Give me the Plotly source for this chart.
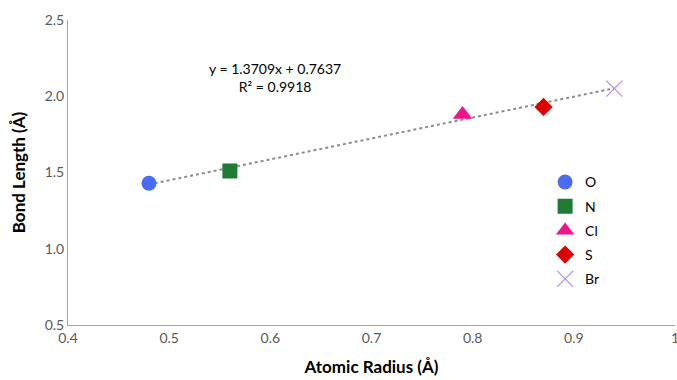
import plotly.graph_objects as go
import numpy as np

elements = ["O", "N", "Cl", "S", "Br"]
atomic_radius = [0.48, 0.56, 0.79, 0.87, 0.94]
bond_length = [1.43, 1.51, 1.88, 1.93, 2.05]
symbols = ["circle", "square", "triangle-up", "diamond", "x-thin"]
colors = ["#4a6cf5", "#1e7b34", "#f0148c", "#dd0000", "#b48cec"]
sizes = [15, 15, 17, 14, 16]

x_ticks = [0.4, 0.5, 0.6, 0.7, 0.8, 0.9, 1.0]
x_tick_labels = ["0.4", "0.5", "0.6", "0.7", "0.8", "0.9", "1"]
y_ticks = [0.5, 1.0, 1.5, 2.0, 2.5]
y_tick_labels = ["0.5", "1.0", "1.5", "2.0", "2.5"]

slope, intercept = 1.3709, 0.7637
r2 = 0.9918

FONT = "Lato"

fig = go.Figure()

# trendline
tx = np.array([min(atomic_radius), max(atomic_radius)])
fig.add_trace(go.Scatter(x=tx, y=slope * tx + intercept, mode="lines",
                         line=dict(color="#8c8c8c", width=2, dash="dot"),
                         showlegend=False, hoverinfo="skip"))

for i, el in enumerate(elements):
    mk = dict(symbol=symbols[i], color=colors[i], size=sizes[i])
    if symbols[i] == "x-thin":
        mk["line"] = dict(color=colors[i], width=1.2)
    fig.add_trace(go.Scatter(x=[atomic_radius[i]], y=[bond_length[i]], mode="markers",
                             marker=mk, name=el, legendgroup=el))

fig.add_annotation(x=0.605, y=2.12, xref="x", yref="y",
                   text=f"y = {slope}x + {intercept}<br>R² = {r2}",
                   showarrow=False, align="center",
                   font=dict(family=FONT, size=14, color="#000"))

fig.update_layout(
    width=677, height=380,
    margin=dict(l=68, r=2, t=20, b=55),
    paper_bgcolor="white", plot_bgcolor="white",
    font=dict(family=FONT, size=14, color="#595959"),
    showlegend=True,
    legend=dict(x=0.786, y=0.52, xanchor="left", yanchor="top",
                font=dict(family=FONT, size=14, color="#000"),
                tracegroupgap=3, bgcolor="rgba(0,0,0,0)"),
    xaxis=dict(range=[0.4, 1.0], tickvals=x_ticks, ticktext=x_tick_labels,
               ticklabeloverflow="allow", automargin=False,
               showgrid=False, zeroline=False,
               showline=True, linecolor="#a6a6a6", linewidth=1, ticks="",
               title=dict(text="<b>Atomic Radius (Å)</b>", standoff=16,
                          font=dict(family=FONT, size=17, color="#000"))),
    yaxis=dict(range=[0.5, 2.5], tickvals=y_ticks, ticktext=y_tick_labels,
               showgrid=False, zeroline=False,
               showline=True, linecolor="#a6a6a6", linewidth=1, ticks="",
               title=dict(text="<b>Bond Length (Å)</b>", standoff=14,
                          font=dict(family=FONT, size=17, color="#000"))),
)

fig.write_html("out.html")
